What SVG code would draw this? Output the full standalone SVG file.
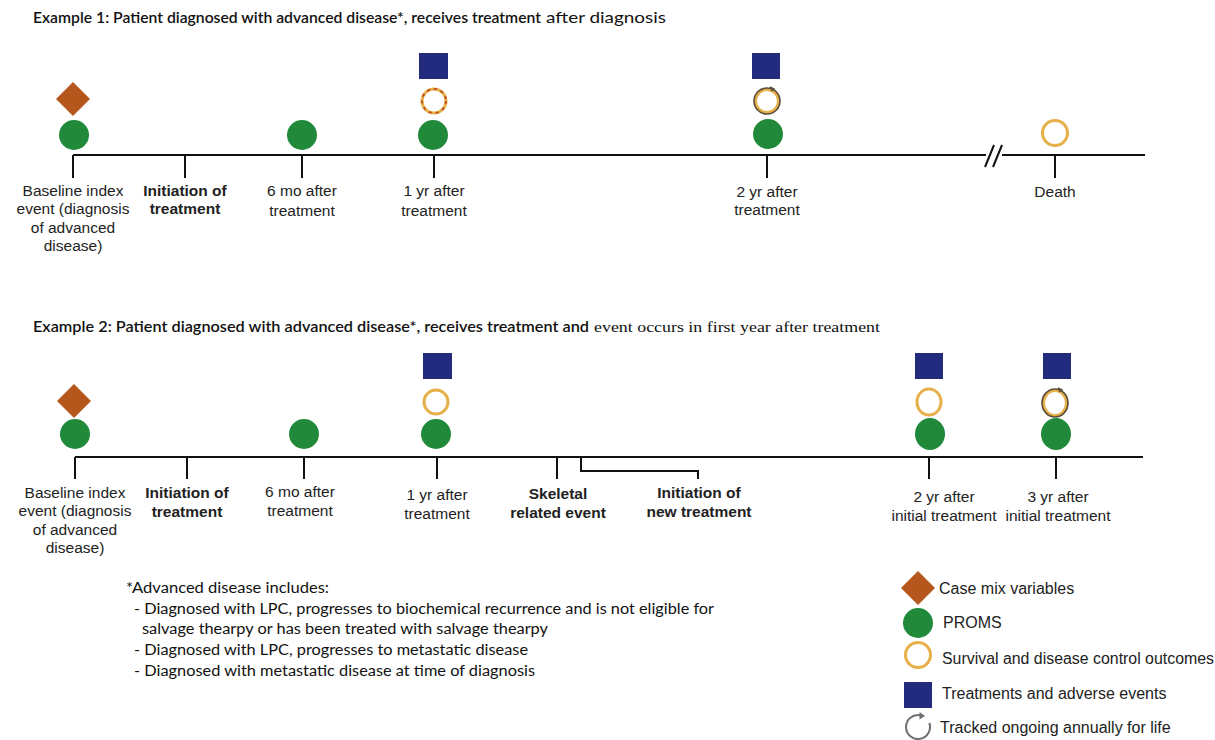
<svg xmlns="http://www.w3.org/2000/svg" width="1215" height="740" viewBox="0 0 1215 740">
<style>
.title{font-family:Lato,"Noto Sans",sans-serif;font-size:16px;fill:#111;font-weight:600}
.titlen{font-weight:400}
.serif{font-family:"Liberation Serif",serif;font-weight:400;font-size:15.5px}
.lbl{font-family:"Liberation Sans",Arial,sans-serif;font-size:15.5px;fill:#222;text-anchor:middle}
.b{font-weight:bold}
.leg{font-family:"Liberation Sans",Arial,sans-serif;font-size:16px;fill:#222}
.note{font-family:Lato,"Noto Sans",sans-serif;font-size:15.5px;fill:#111}
.axis{stroke:#111;stroke-width:2;fill:none}
.dia{fill:#B5561C}
.prom{fill:#218A3A}
.trt{fill:#232B7E}
.ring{fill:none;stroke:#E6B04A;stroke-width:3}
.ringred{fill:none;stroke:#C4501E;stroke-width:2;stroke-dasharray:3 4}
.ringdark{fill:none;stroke:#5A4E3A;stroke-width:1.6}
.track{fill:none;stroke:#6E6E6E;stroke-width:2}
</style>
<defs>
<path id="diamond" d="M0,-17 L17,0 L0,17 L-17,0 Z"/>
</defs>

<text class="title" x="33" y="23"><tspan textLength="508" lengthAdjust="spacingAndGlyphs">Example 1: Patient diagnosed with advanced disease*, receives treatment</tspan><tspan class="titlen" x="546" textLength="120" lengthAdjust="spacingAndGlyphs">after diagnosis</tspan></text>
<text class="title" x="33" y="332"><tspan textLength="556" lengthAdjust="spacingAndGlyphs">Example 2: Patient diagnosed with advanced disease*, receives treatment and</tspan><tspan class="serif" x="594" textLength="286" lengthAdjust="spacingAndGlyphs">event occurs in first year after treatment</tspan></text>

<g id="connectors">
  <path class="axis" d="M73,155 H986 M1002,155 H1145"/>
  <path class="axis" d="M985,167 L994,145 M993,167 L1002,145" stroke-width="1.8"/>
  <path class="axis" d="M73,155 V178 M185,155 V178 M302,155 V178 M434,155 V178 M767,155 V178 M1055,155 V178"/>
  <path class="axis" d="M75,457 H1143"/>
  <path class="axis" d="M75,457 V479 M187,457 V479 M304,457 V479 M437,457 V479 M557,457 V479 M929,457 V479 M1056,457 V479"/>
  <path class="axis" d="M581,457 V471 H698 V479"/>
</g>

<g id="e1-baseline">
  <use href="#diamond" class="dia" x="73" y="99"/>
  <circle class="prom" cx="74" cy="135" r="15"/>
  <text class="lbl" x="73" y="196">Baseline index</text>
  <text class="lbl" x="73" y="214">event (diagnosis</text>
  <text class="lbl" x="73" y="233">of advanced</text>
  <text class="lbl" x="73" y="251">disease)</text>
</g>
<g id="e1-initiation">
  <text class="lbl b" x="185" y="196">Initiation of</text>
  <text class="lbl b" x="185" y="214">treatment</text>
</g>
<g id="e1-6mo">
  <circle class="prom" cx="302" cy="135" r="15"/>
  <text class="lbl" x="302" y="196">6 mo after</text>
  <text class="lbl" x="302" y="216">treatment</text>
</g>
<g id="e1-1yr">
  <rect class="trt" x="419" y="53" width="29" height="26"/>
  <circle class="ring" cx="434" cy="101" r="12"/>
  <circle class="ringred" cx="434" cy="101" r="12"/>
  <circle class="prom" cx="433" cy="135" r="15"/>
  <text class="lbl" x="434" y="196">1 yr after</text>
  <text class="lbl" x="434" y="216">treatment</text>
</g>
<g id="e1-2yr">
  <rect class="trt" x="752" y="53" width="28" height="26"/>
  <circle class="ring" cx="767" cy="101" r="11.5"/>
  <circle class="ringdark" cx="767" cy="101" r="13"/>
  <path d="M770,87 L774,89 L771,91" fill="none" stroke="#5A4E3A" stroke-width="1.5"/>
  <circle class="prom" cx="768" cy="134" r="15"/>
  <text class="lbl" x="767" y="197">2 yr after</text>
  <text class="lbl" x="767" y="215">treatment</text>
</g>
<g id="e1-death">
  <circle class="ring" cx="1055" cy="133" r="12.5"/>
  <text class="lbl" x="1055" y="197">Death</text>
</g>

<g id="e2-baseline">
  <use href="#diamond" class="dia" x="74" y="401"/>
  <circle class="prom" cx="75" cy="434" r="15"/>
  <text class="lbl" x="75" y="498">Baseline index</text>
  <text class="lbl" x="75" y="516">event (diagnosis</text>
  <text class="lbl" x="75" y="535">of advanced</text>
  <text class="lbl" x="75" y="553">disease)</text>
</g>
<g id="e2-initiation">
  <text class="lbl b" x="187" y="498">Initiation of</text>
  <text class="lbl b" x="187" y="517">treatment</text>
</g>
<g id="e2-6mo">
  <circle class="prom" cx="304" cy="434" r="15"/>
  <text class="lbl" x="300" y="497">6 mo after</text>
  <text class="lbl" x="300" y="516">treatment</text>
</g>
<g id="e2-1yr">
  <rect class="trt" x="423" y="353" width="29" height="26"/>
  <circle class="ring" cx="436" cy="402" r="12"/>
  <circle class="prom" cx="436" cy="434" r="15"/>
  <text class="lbl" x="437" y="500">1 yr after</text>
  <text class="lbl" x="437" y="519">treatment</text>
</g>
<g id="e2-skeletal">
  <text class="lbl b" x="558" y="499">Skeletal</text>
  <text class="lbl b" x="558" y="518">related event</text>
</g>
<g id="e2-newtreatment">
  <text class="lbl b" x="699" y="498">Initiation of</text>
  <text class="lbl b" x="699" y="517">new treatment</text>
</g>
<g id="e2-2yr">
  <rect class="trt" x="915" y="353" width="28" height="26"/>
  <ellipse class="ring" cx="929" cy="402" rx="12" ry="13"/>
  <ellipse class="prom" cx="930" cy="434" rx="15" ry="16"/>
  <text class="lbl" x="944" y="502">2 yr after</text>
  <text class="lbl" x="944" y="521">initial treatment</text>
</g>
<g id="e2-3yr">
  <rect class="trt" x="1043" y="353" width="28" height="26"/>
  <ellipse class="ring" cx="1055" cy="403" rx="11.5" ry="12.5"/>
  <ellipse class="ringdark" cx="1055" cy="403" rx="13" ry="14"/>
  <path d="M1058,388 L1062,390 L1059,392" fill="none" stroke="#5A4E3A" stroke-width="1.5"/>
  <ellipse class="prom" cx="1056" cy="434" rx="15" ry="16"/>
  <text class="lbl" x="1058" y="502">3 yr after</text>
  <text class="lbl" x="1058" y="521">initial treatment</text>
</g>

<g id="footnote">
  <text class="note" x="126" y="593" textLength="203" lengthAdjust="spacingAndGlyphs">*Advanced disease includes:</text>
  <text class="note" x="134" y="614" textLength="580" lengthAdjust="spacingAndGlyphs">- Diagnosed with LPC, progresses to biochemical recurrence and is not eligible for</text>
  <text class="note" x="142" y="634" textLength="406" lengthAdjust="spacingAndGlyphs">salvage thearpy or has been treated with salvage thearpy</text>
  <text class="note" x="134" y="655" textLength="394" lengthAdjust="spacingAndGlyphs">- Diagnosed with LPC, progresses to metastatic disease</text>
  <text class="note" x="134" y="676" textLength="401" lengthAdjust="spacingAndGlyphs">- Diagnosed with metastatic disease at time of diagnosis</text>
</g>

<g id="legend">
  <g id="leg-casemix">
    <use href="#diamond" class="dia" x="918" y="588"/>
    <text class="leg" x="939" y="594">Case mix variables</text>
  </g>
  <g id="leg-proms">
    <circle class="prom" cx="918" cy="623" r="15"/>
    <text class="leg" x="943" y="628">PROMS</text>
  </g>
  <g id="leg-survival">
    <circle class="ring" cx="918" cy="655" r="12.5"/>
    <text class="leg" x="942" y="664" textLength="272" lengthAdjust="spacingAndGlyphs">Survival and disease control outcomes</text>
  </g>
  <g id="leg-treatments">
    <rect class="trt" x="904" y="682" width="28" height="26"/>
    <text class="leg" x="942" y="699">Treatments and adverse events</text>
  </g>
  <g id="leg-tracked">
    <path class="track" d="M929.3,722.9 A12,12 0 1 1 920.1,715.2"/>
    <path d="M925,716 L919.5,712 L919.5,719.5 Z" fill="#6E6E6E"/>
    <text class="leg" x="940" y="733">Tracked ongoing annually for life</text>
  </g>
</g>
</svg>
